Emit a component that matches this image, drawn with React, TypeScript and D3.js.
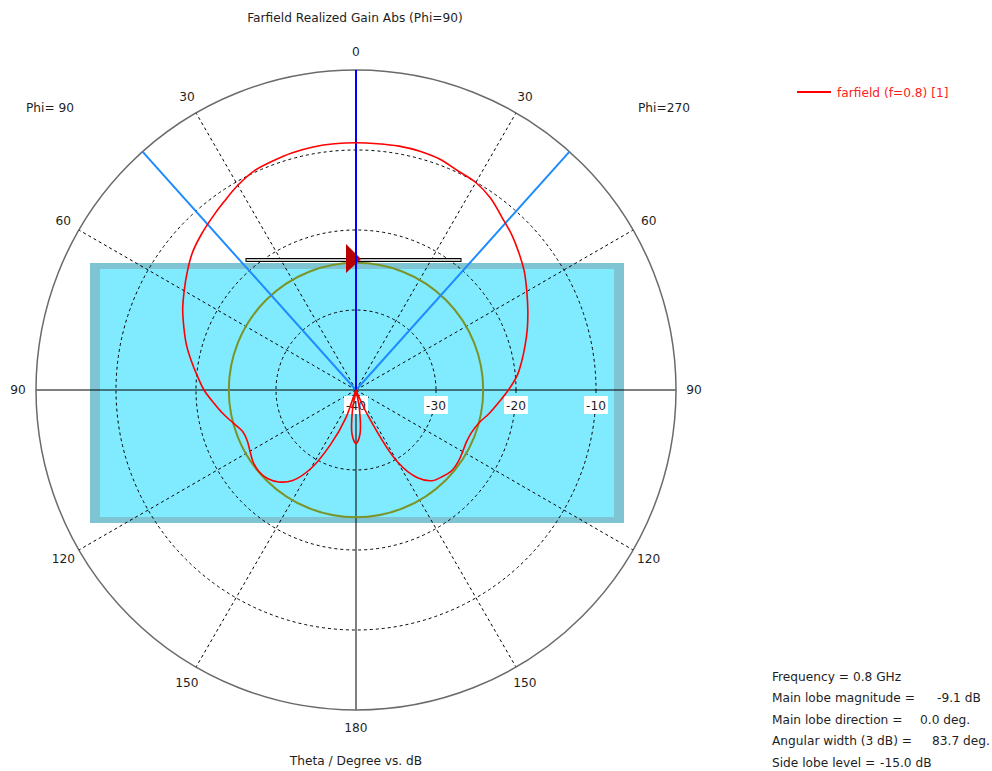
import React from "react";
import * as d3 from "d3";

const THETA = [0,5,10,15,20,25,30,35,40,45,50,55,60,65,70,75,80,85,90,95,100,105,110,115,120,125,130,135,140,145,150,155,160,165,170,175,180];
const GAIN_PHI90 = [-9.1,-9.1,-9.15,-9.3,-9.55,-9.8,-10.45,-11.25,-11.95,-12.6,-13.3,-14.25,-15.2,-16.1,-17.1,-18.05,-19.1,-20.1,-21.0,-22.1,-23.1,-24.1,-24.9,-25.0,-24.7,-24.3,-24.15,-24.35,-25.0,-26.2,-28.6,-32.5,-36.3,-42,-37.5,-34.4,-33.3];
const GAIN_PHI270 = [-9.1,-9.1,-9.05,-9.1,-9.3,-9.8,-10.05,-10.7,-11.7,-12.5,-13.4,-14.3,-15.35,-16.3,-17.2,-18.1,-18.95,-19.8,-20.95,-22.1,-23.1,-24.1,-24.6,-24.75,-24.6,-24.4,-24.35,-24.7,-25.2,-26.6,-29.6,-36.5,-41,-42,-37.5,-34.4,-33.3];

const RING_DB = [-30, -20, -10];
const RING_LABELS = ["-40", "-30", "-20", "-10"];
const RING_LABEL_DB = [-40, -30, -20, -10];
const ANGLE_TICKS = [0, 30, 60, 90, 120, 150, 180];
const DASHED_ANGLES = [30, 60, 120, 150];

const MAIN_LOBE_DB = -9.1;
const MAIN_LOBE_DIR = 0;
const BEAMWIDTH = 83.7;
const SIDE_LOBE_REL = -15.0;

const TITLE = "Farfield Realized Gain Abs (Phi=90)";
const XLABEL = "Theta / Degree vs. dB";
const LEGEND = "farfield (f=0.8) [1]";
const INFO_LABELS = ["Main lobe magnitude =", "Main lobe direction =", "Angular width (3 dB) =", "Side lobe level ="];
const INFO_VALUES = ["-9.1 dB", "0.0 deg.", "83.7 deg.", "-15.0 dB"];

export default function App() {
  const W = 992, H = 771;
  const cx = 356, cy = 390, R = 320;
  const r = d3.scaleLinear().domain([-40, 0]).range([0, R]).clamp(true);
  const rad = (deg: number) => (deg * Math.PI) / 180;
  const pt = (deg: number, rr: number): [number, number] => [cx + rr * Math.sin(rad(deg)), cy - rr * Math.cos(rad(deg))];

  const pts: [number, number][] = [];
  THETA.forEach((t, i) => pts.push([-rad(t), r(GAIN_PHI90[i])]));
  for (let i = THETA.length - 2; i >= 1; i--) pts.push([rad(THETA[i]), r(GAIN_PHI270[i])]);
  const line = d3.lineRadial<[number, number]>().angle(d => d[0]).radius(d => d[1]).curve(d3.curveCatmullRomClosed);
  const pathD = line(pts) || "";

  const font = "'DejaVu Sans', Verdana, sans-serif";
  const fs = 12.2;
  const txt = "#1e1e1e";
  const sideR = r(MAIN_LOBE_DB + SIDE_LOBE_REL);
  const half = BEAMWIDTH / 2;

  const rectX = cx - 266, rectY = cy - 127, rectW = 534, rectH = 260;
  const barY = cy - 131.5;
  const angleLabelR = 338;
  const valueX = [937, 920, 932, 880];

  return (
    <svg width={W} height={H} style={{ position: "absolute", left: 0, top: 0, background: "#fff" }} fontFamily={font}>
      <rect x={0} y={0} width={W} height={H} fill="#fff" />
      <text x={355} y={22} textAnchor="middle" fontSize={fs} fill={txt}>{TITLE}</text>

      <rect x={rectX} y={rectY} width={rectW} height={rectH} fill="#7fc4d3" />
      <rect x={rectX + 10} y={rectY + 6} width={rectW - 20} height={rectH - 12} fill="#80eaff" />

      {RING_DB.map(db => (
        <circle key={db} cx={cx} cy={cy} r={r(db)} fill="none" stroke="#000" strokeWidth={1} strokeDasharray="3,3" />
      ))}
      {DASHED_ANGLES.flatMap(a => [a, -a]).map(a => {
        const [x2, y2] = pt(a, R);
        return <line key={a} x1={cx} y1={cy} x2={x2} y2={y2} stroke="#000" strokeWidth={1} strokeDasharray="3,3" />;
      })}
      <line x1={cx - R} y1={cy} x2={cx + R} y2={cy} stroke="#000" strokeWidth={1} />
      <line x1={cx} y1={cy - R} x2={cx} y2={cy + R} stroke="#000" strokeWidth={1} />
      <circle cx={cx} cy={cy} r={R} fill="none" stroke="#6a6a6a" strokeWidth={1.5} />

      {RING_LABELS.map((l, i) => {
        const x = cx + r(RING_LABEL_DB[i]);
        return (
          <g key={l}>
            <rect x={x - 12} y={cy + 6} width={24} height={18} fill="#fff" />
            <text x={x} y={cy + 20} textAnchor="middle" fontSize={fs} fill={txt}>{l}</text>
          </g>
        );
      })}

      <circle cx={cx} cy={cy} r={sideR} fill="none" stroke="#7b9428" strokeWidth={2} />

      <rect x={cx - 110} y={barY} width={215} height={3} fill="#c8c8c8" stroke="#000" strokeWidth={1} />
      <polygon points={`${cx - 10},${cy - 146} ${cx + 5},${cy - 131} ${cx - 10},${cy - 117}`} fill="#b80000" />

      {[-half, half].map(a => {
        const [x2, y2] = pt(MAIN_LOBE_DIR + a, R);
        return <line key={a} x1={cx} y1={cy} x2={x2} y2={y2} stroke="#1e8cff" strokeWidth={2} />;
      })}
      <line x1={cx} y1={cy} x2={cx} y2={cy - R} stroke="#0000ff" strokeWidth={2} />

      <path d={pathD} transform={`translate(${cx},${cy})`} fill="none" stroke="#ff0000" strokeWidth={1.6} />

      {ANGLE_TICKS.flatMap(a => (a === 0 || a === 180 ? [a] : [a, -a])).map(a => {
        const [x, y] = pt(a, angleLabelR);
        return (
          <text key={a} x={x} y={y} textAnchor="middle" dominantBaseline="central" fontSize={fs} fill={txt}>{Math.abs(a)}</text>
        );
      })}
      <text x={26} y={112} fontSize={fs} fill={txt}>Phi= 90</text>
      <text x={638} y={112} fontSize={fs} fill={txt}>Phi=270</text>
      <text x={356} y={765} textAnchor="middle" fontSize={fs} fill={txt}>{XLABEL}</text>

      <line x1={797} y1={92} x2={831} y2={92} stroke="#ff0000" strokeWidth={2} />
      <text x={837} y={97} fontSize={fs} fill="#ff2020">{LEGEND}</text>

      <text x={772} y={681} fontSize={fs} fill={txt}>Frequency = 0.8 GHz</text>
      {INFO_LABELS.map((l, i) => (
        <text key={l} x={772} y={702 + i * 21.5} fontSize={fs} fill={txt}>{l}</text>
      ))}
      {INFO_VALUES.map((v, i) => (
        <text key={v} x={valueX[i]} y={702 + i * 21.5} fontSize={fs} fill={txt}>{v}</text>
      ))}
    </svg>
  );
}
